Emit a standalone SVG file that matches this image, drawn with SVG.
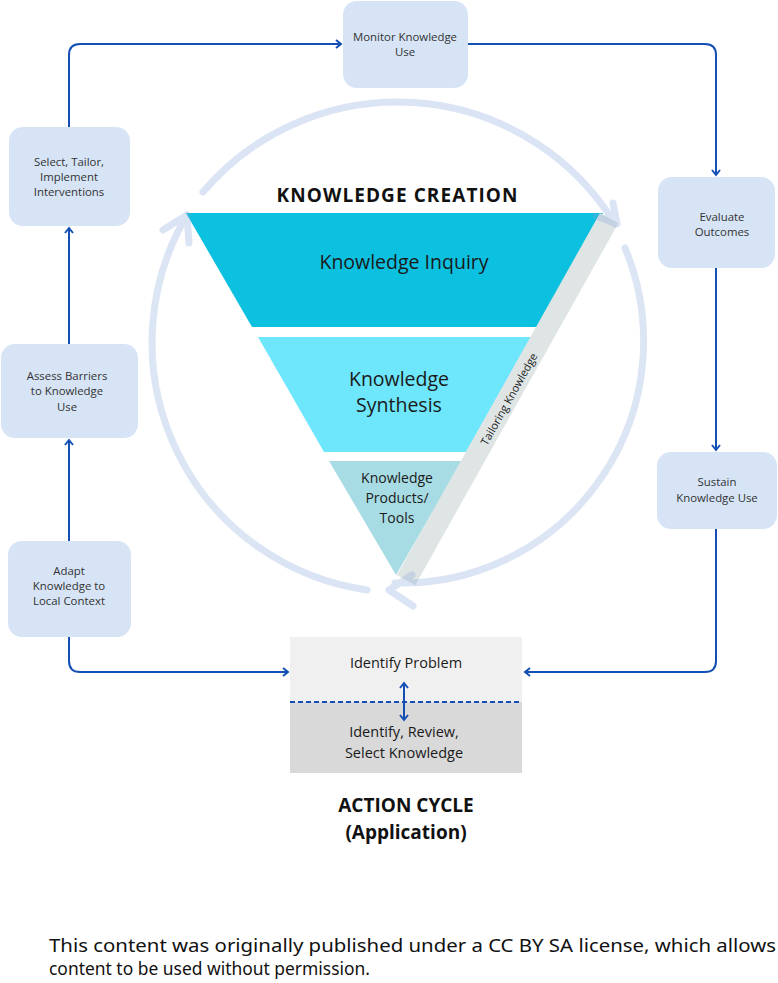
<svg xmlns="http://www.w3.org/2000/svg" width="778" height="983" viewBox="0 0 778 983">
<defs>
<style>
.box{fill:#d6e4f6;}
.bt{font-family:"Open Sans","Noto Sans",sans-serif;font-size:11.4px;fill:#333;text-anchor:middle;}
.con{fill:none;stroke:#1450b4;stroke-width:2;}
.arc{fill:none;stroke:#7fa0d8;stroke-width:7;stroke-linecap:round;stroke-linejoin:round;}
.tt{font-family:"Open Sans","Noto Sans",sans-serif;fill:#1a1a1a;text-anchor:middle;}
.title{font-family:"Open Sans","Noto Sans",sans-serif;font-weight:bold;font-size:19px;fill:#111;text-anchor:middle;}
.foot{font-family:"Noto Sans","Open Sans",sans-serif;font-size:18px;fill:#111;}
</style>
<marker id="ah" markerUnits="userSpaceOnUse" markerWidth="12" markerHeight="12" viewBox="-7 -6 10 12" refX="0" refY="0" orient="auto-start-reverse">
<path d="M-5,-4 L0,0 L-5,4" fill="none" stroke="#1450b4" stroke-width="2"/>
</marker>
</defs>
<rect width="778" height="983" fill="#fff"/>

<g id="knowledge-creation">
<polygon id="inquiry" points="186,213 603,213 537,327 252,327" fill="#0cc0df"/>
<polygon id="synthesis" points="258,337 531,337 466,452 324,452" fill="#6ee6fb"/>
<polygon id="products" points="329,461 462,461 396,575" fill="#a8dce4"/>
<g id="tailoring">
<rect transform="translate(600,213) rotate(119.3)" x="0" y="-21" width="415" height="21" fill="#dfe5e5"/>
<text transform="translate(509,399) rotate(-60.7)" class="tt" font-size="11" fill="#444" dy="4">Tailoring Knowledge</text>
</g>
<text class="title" x="397" y="202" textLength="241">KNOWLEDGE CREATION</text>
<text class="tt" x="404" y="269" font-size="19.5">Knowledge Inquiry</text>
<text class="tt" x="399" y="386" font-size="19.5">Knowledge</text>
<text class="tt" x="399" y="412" font-size="19.5">Synthesis</text>
<text class="tt" x="397" y="483" font-size="14">Knowledge</text>
<text class="tt" x="397" y="503" font-size="14">Products/</text>
<text class="tt" x="397" y="523" font-size="14">Tools</text>
</g>

<g id="cycle-arrows" opacity="0.28">
<path class="arc" d="M203,192 A255,255 0 0 1 615,224"/>
<path class="arc" d="M613,203 L617,224 L596,216"/>
<path class="arc" d="M367,590 A250,250 0 0 1 187,215"/>
<path class="arc" d="M163,230 L187,215 L189,243"/>
<path class="arc" d="M625,248 A242,242 0 0 1 395,583"/>
<path class="arc" d="M412,575 L389,590 L413,606"/>
</g>

<g id="connectors">
<path class="con" d="M69,541 L69,440" marker-end="url(#ah)"/>
<path class="con" d="M69,344 L69,228" marker-end="url(#ah)"/>
<path class="con" d="M69,127 L69,55 Q69,44 80,44 L341,44" marker-end="url(#ah)"/>
<path class="con" d="M468,44 L705,44 Q716,44 716,55 L716,175" marker-end="url(#ah)"/>
<path class="con" d="M716,268 L716,450" marker-end="url(#ah)"/>
<path class="con" d="M716,529 L716,661 Q716,672 705,672 L525,672" marker-end="url(#ah)"/>
<path class="con" d="M69,637 L69,661 Q69,672 80,672 L288,672" marker-end="url(#ah)"/>
</g>

<g id="select">
<rect class="box" x="9" y="127" width="121" height="99" rx="14"/>
<text class="bt" x="69" y="166">Select, Tailor,</text>
<text class="bt" x="69" y="181">Implement</text>
<text class="bt" x="69" y="196">Interventions</text>
</g>
<g id="monitor">
<rect class="box" x="343" y="1" width="125" height="87" rx="14"/>
<text class="bt" x="405" y="41">Monitor Knowledge</text>
<text class="bt" x="405" y="56">Use</text>
</g>
<g id="evaluate">
<rect class="box" x="658" y="177" width="117" height="91" rx="14"/>
<text class="bt" x="722" y="221">Evaluate</text>
<text class="bt" x="722" y="236">Outcomes</text>
</g>
<g id="assess">
<rect class="box" x="1" y="344" width="137" height="94" rx="14"/>
<text class="bt" x="67" y="380">Assess Barriers</text>
<text class="bt" x="67" y="395">to Knowledge</text>
<text class="bt" x="67" y="411">Use</text>
</g>
<g id="sustain">
<rect class="box" x="657" y="452" width="120" height="77" rx="14"/>
<text class="bt" x="717" y="486">Sustain</text>
<text class="bt" x="717" y="502">Knowledge Use</text>
</g>
<g id="adapt">
<rect class="box" x="8" y="541" width="123" height="96" rx="14"/>
<text class="bt" x="69" y="575">Adapt</text>
<text class="bt" x="69" y="590">Knowledge to</text>
<text class="bt" x="69" y="605">Local Context</text>
</g>

<g id="action-cycle">
<rect x="290" y="637" width="232" height="65" fill="#f0f0f0"/>
<rect x="290" y="702" width="232" height="71" fill="#d9d9d9"/>
<line x1="290" y1="702" x2="522" y2="702" stroke="#1450b4" stroke-width="2" stroke-dasharray="5,3"/>
<path class="con" d="M404,683 L404,720" marker-start="url(#ah)" marker-end="url(#ah)"/>
<text class="tt" x="406" y="668" font-size="14.5" fill="#333">Identify Problem</text>
<text class="tt" x="404" y="737" font-size="14.5" fill="#333">Identify, Review,</text>
<text class="tt" x="404" y="758" font-size="14.5" fill="#333">Select Knowledge</text>
<text class="title" x="406" y="812">ACTION CYCLE</text>
<text class="title" x="406" y="839">(Application)</text>
</g>

<g id="footer">
<text class="foot" x="49" y="952" textLength="727" lengthAdjust="spacingAndGlyphs">This content was originally published under a CC BY SA license, which allows</text>
<text class="foot" x="49" y="975" textLength="321" lengthAdjust="spacingAndGlyphs">content to be used without permission.</text>
</g>
</svg>
